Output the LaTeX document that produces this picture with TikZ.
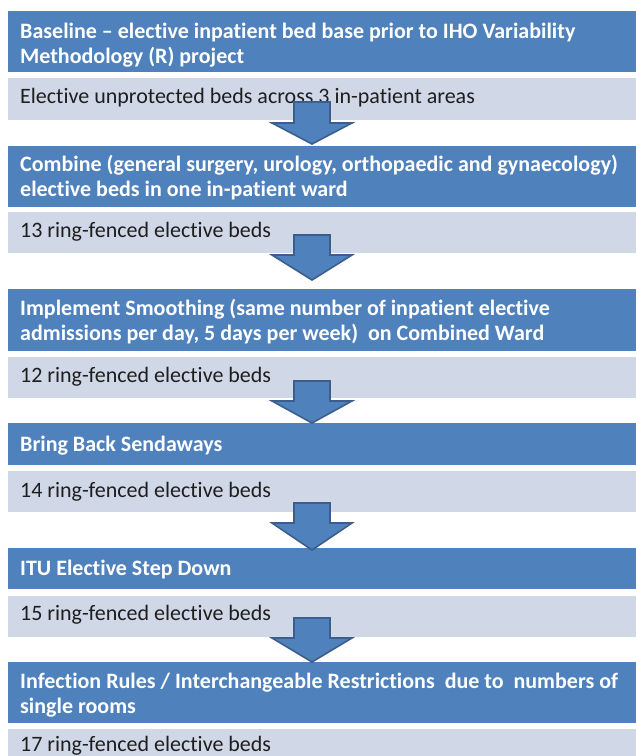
\documentclass[tikz,border=0pt]{standalone}
\usepackage{fontspec}
\setmainfont[Ligatures=NoCommon]{Carlito}
\definecolor{stepblue}{HTML}{4F81BD}
\definecolor{steplight}{HTML}{D0D8E8}
\definecolor{arrowedge}{HTML}{3B5E8C}
\definecolor{bodytext}{HTML}{1E1E1E}
\begin{document}
\begin{tikzpicture}[x=1pt,y=-1pt,
  bluebox/.style={draw=none,fill=stepblue,rectangle,inner sep=0pt,anchor=north west,minimum width=628pt},
  lightbox/.style={draw=none,fill=steplight,rectangle,inner sep=0pt,anchor=north west,minimum width=628pt},
  headtext/.style={inner sep=0pt,anchor=base west,align=left,text=white,font=\fontsize{22}{25}\selectfont\bfseries},
  bodytxt/.style={inner sep=0pt,anchor=base west,align=left,text=bodytext,font=\fontsize{22}{25}\selectfont},
  downarrow/.style={fill=stepblue,draw=arrowedge,line width=1.6pt,line join=miter}]
\useasboundingbox (0,0) rectangle (636,756);
\fill[white] (0,0) rectangle (636,756);

% step boxes: blue heading, pale result below
\node[bluebox,minimum height=61pt] (b1) at (8,11) {};
\node[lightbox,minimum height=42pt] (l1) at (8,78) {};
\node[bluebox,minimum height=61pt] (b2) at (8,146) {};
\node[lightbox,minimum height=41pt] (l2) at (8,212) {};
\node[bluebox,minimum height=62pt] (b3) at (8,289) {};
\node[lightbox,minimum height=41pt] (l3) at (8,357) {};
\node[bluebox,minimum height=42pt] (b4) at (8,423) {};
\node[lightbox,minimum height=41pt] (l4) at (8,471) {};
\node[bluebox,minimum height=41pt] (b5) at (8,548) {};
\node[lightbox,minimum height=41pt] (l5) at (8,596) {};
\node[bluebox,minimum height=61pt] (b6) at (8,662) {};
\node[lightbox,minimum height=40pt] (l6) at (8,729) {};

% labels (anchor sits on the last line's baseline)
\node[headtext] (t1) at (20,63) {Baseline – elective inpatient bed base prior to IHO Variability\\Methodology (R) project};
\node[bodytxt] (s1) at (20,103) {Elective unprotected beds across 3 in-patient areas};
\node[headtext] (t2) at (20,196) {Combine (general surgery, urology, orthopaedic and gynaecology)\\elective beds in one in-patient ward};
\node[bodytxt] (s2) at (20,237) {13 ring-fenced elective beds};
\node[headtext] (t3) at (20,340) {Implement Smoothing (same number of inpatient elective\\admissions per day, 5 days per week)\ \ on Combined Ward};
\node[bodytxt] (s3) at (20,382) {12 ring-fenced elective beds};
\node[headtext] (t4) at (20,451) {Bring Back Sendaways};
\node[bodytxt] (s4) at (20,497) {14 ring-fenced elective beds};
\node[headtext] (t5) at (20,575) {ITU Elective Step Down};
\node[bodytxt] (s5) at (20,620) {15 ring-fenced elective beds};
\node[headtext] (t6) at (20,713) {Infection Rules / Interchangeable Restrictions\ \ due to\ \ numbers of\\single rooms};
\node[bodytxt] (s6) at (20,751) {17 ring-fenced elective beds};

% block arrows between the steps, drawn over the boxes
\foreach \st/\ht/\tp in {102/123/144, 235/255/280, 381/401/423, 503/523/550, 618/638/662}{
  \draw[downarrow] (294,\st) -- (330,\st) -- (330,\ht) -- (352,\ht) -- (312,\tp)
    -- (272,\ht) -- (294,\ht) -- cycle;
}
\end{tikzpicture}
\end{document}
